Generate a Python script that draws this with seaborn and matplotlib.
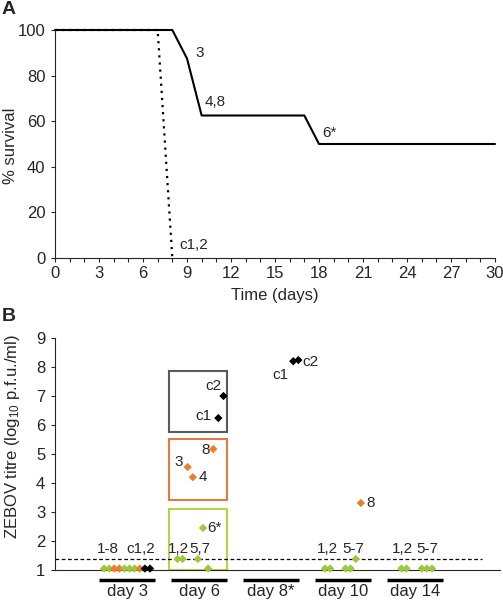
import numpy as np
import pandas as pd
import matplotlib
matplotlib.use("Agg")
import matplotlib.pyplot as plt
from matplotlib.patches import Rectangle
from matplotlib.ticker import MultipleLocator
import seaborn as sns

#%% Panel A: survival curves
survDays = [0, 8, 9, 10, 17, 18, 30]
survPct = [100, 100, 87.5, 62.5, 62.5, 50, 50]
ctrlDays = [0, 7, 8]
ctrlPct = [100, 100, 0]

survNotes = ["3", "4,8", "6*", "c1,2"]
survNoteDay = [9.6, 10.2, 18.2, 8.5]
survNotePct = [90, 68.5, 55, 5.5]

#%% Panel B: viral titres per animal
dayNames = ["day 3", "day 6", "day 8*", "day 10", "day 14"]
animalOrder = ["1", "2", "3", "4", "5", "6", "7", "8", "c1", "c2"]
animalOutcome = ["survived", "survived", "died", "died", "survived",
                 "survived", "survived", "died", "control", "control"]

sampleDay = (["day 3"] * 10 + ["day 6"] * 10 + ["day 8*"] * 2
             + ["day 10"] * 6 + ["day 14"] * 5)
sampleAnimal = (["1", "2", "3", "4", "5", "6", "7", "8", "c1", "c2"]
                + ["1", "2", "3", "4", "5", "6", "7", "8", "c1", "c2"]
                + ["c1", "c2"]
                + ["1", "2", "5", "6", "7", "8"]
                + ["1", "2", "5", "6", "7"])
sampleTitre = ([1.05, 1.05, 1.05, 1.05, 1.05, 1.05, 1.05, 1.05, 1.05, 1.05]
               + [1.38, 1.38, 4.55, 4.2, 1.38, 2.45, 1.05, 5.17, 6.24, 7.0]
               + [8.2, 8.24]
               + [1.05, 1.05, 1.05, 1.05, 1.38, 3.31]
               + [1.05, 1.05, 1.05, 1.05, 1.05])
detectionLimit = 1.38

# group boxes on day 6: (bottom, top)
boxRanges = {"control": (5.76, 7.86), "died": (3.41, 5.52), "survived": (1.0, 3.1)}

palette = {"survived": "#9BC93A", "died": "#EE7C2B", "control": "#000000"}
boxColours = {"control": "#5A5A5A", "died": "#E27A45", "survived": "#B8D444"}

#%% text labels for panel B
bNotes = ["1-8", "c1,2", "1,2", "5,7", "1,2", "5-7", "1,2", "5-7"]
bNoteX = [0.74, 1.19, 1.71, 2.01, 3.79, 4.14, 4.82, 5.17]
bNoteY = [1.72] * 8
pointNotes = ["6*", "3", "4", "8", "c1", "c2", "c1", "c2", "8"]
pointNoteX = [2.11, 1.78, 2.0, 2.15, 2.18, 2.31, 3.24, 3.44, 4.33]
pointNoteY = [2.45, 4.72, 4.2, 5.14, 6.3, 7.34, 7.72, 8.17, 3.31]
pointNoteHa = ["left", "right", "left", "right", "right", "right", "right", "left", "left"]

#%% build frame
dayShift = {"day 3": 0.0, "day 6": 0.02, "day 8*": 0.06, "day 10": 0.07, "day 14": 0.13}
slotWidth = 0.071
df = pd.DataFrame({"day": sampleDay, "animal": sampleAnimal, "titre": sampleTitre})
df["outcome"] = df["animal"].map(dict(zip(animalOrder, animalOutcome)))
df["xpos"] = (df["day"].map({d: i + 1 for i, d in enumerate(dayNames)})
              + df["day"].map(dayShift)
              + (df["animal"].map({a: i for i, a in enumerate(animalOrder)}) - 4.5) * slotWidth)

#%% plotting
sns.set_style("ticks")
plt.rcParams["font.family"] = ["Liberation Sans", "DejaVu Sans"]
plt.rcParams["mathtext.fontset"] = "custom"
plt.rcParams["mathtext.rm"] = "Liberation Sans"
plt.rcParams["mathtext.it"] = "Liberation Sans"
plt.rcParams["mathtext.default"] = "regular"

fig = plt.figure(figsize=(5.03, 6.0), dpi=100)
axA = fig.add_axes([55 / 503, 1 - 258 / 600, 440 / 503, 228 / 600])
axB = fig.add_axes([55 / 503, 1 - 570 / 600, 445 / 503, 232 / 600])

# panel A
survDF = pd.DataFrame({"day": survDays, "pct": survPct})
ctrlDF = pd.DataFrame({"day": ctrlDays, "pct": ctrlPct})
sns.lineplot(data=ctrlDF, x="day", y="pct", ax=axA, color="black", lw=1.6,
             linestyle=(0, (1, 2.2)), estimator=None, sort=False)
sns.lineplot(data=survDF, x="day", y="pct", ax=axA, color="black", lw=1.5,
             estimator=None, sort=False)
for line in axA.lines:
    line.set_clip_on(False)
for t, x, y in zip(survNotes, survNoteDay, survNotePct):
    axA.text(x, y, t, fontsize=11, ha="left", va="center")
axA.set_xlim(0, 30)
axA.set_ylim(0, 100)
axA.xaxis.set_major_locator(MultipleLocator(3))
axA.xaxis.set_minor_locator(MultipleLocator(1))
axA.yaxis.set_major_locator(MultipleLocator(20))
axA.tick_params(axis="both", which="both", length=3, width=0.8, labelsize=12)
axA.tick_params(axis="x", pad=3)
axA.tick_params(axis="y", pad=4)
axA.set_xlabel("Time (days)", fontsize=12, labelpad=5)
axA.set_ylabel("% survival", fontsize=12)
axA.yaxis.set_label_coords(-0.085, 0.49)
sns.despine(ax=axA)

# panel B
for grp, (lo, hi) in boxRanges.items():
    axB.add_patch(Rectangle((1.58, lo), 0.81, hi - lo, fill=False,
                            edgecolor=boxColours[grp], lw=1.5, clip_on=False))
axB.axhline(detectionLimit, xmin=0, xmax=5.93 / 6.18, color="black", lw=0.9,
            linestyle=(0, (3, 2)))
sns.scatterplot(data=df, x="xpos", y="titre", hue="outcome", palette=palette,
                marker="D", s=18, linewidth=0, legend=False, ax=axB, clip_on=False,
                zorder=3)
for t, x, y in zip(bNotes, bNoteX, bNoteY):
    axB.text(x, y, t, fontsize=11, ha="center", va="center")
for t, x, y, ha in zip(pointNotes, pointNoteX, pointNoteY, pointNoteHa):
    axB.text(x, y, t, fontsize=11, ha=ha, va="center")

centres = np.arange(1, len(dayNames) + 1)
axB.hlines([0.655] * len(centres), centres - 0.39, centres + 0.39, color="black",
           lw=2.5, clip_on=False)
axB.set_xlim(0, 6.18)
axB.set_ylim(1, 9)
axB.set_yticks(range(1, 10))
axB.set_xticks(centres)
axB.set_xticklabels(dayNames)
axB.tick_params(axis="x", length=0, pad=10, labelsize=12)
axB.tick_params(axis="y", length=3, width=0.8, pad=4, labelsize=12)
axB.set_xlabel("")
axB.set_ylabel("ZEBOV titre (log$_{10}$ p.f.u./ml)", fontsize=12)
axB.yaxis.set_label_coords(-0.075, 0.575)
sns.despine(ax=axB)

fig.text(0.004, 0.998, "A", fontsize=14, fontweight="bold", va="top", ha="left")
fig.text(0.004, 1 - 308 / 600, "B", fontsize=14, fontweight="bold", va="top", ha="left")

fig.savefig("out.png", dpi=100)
